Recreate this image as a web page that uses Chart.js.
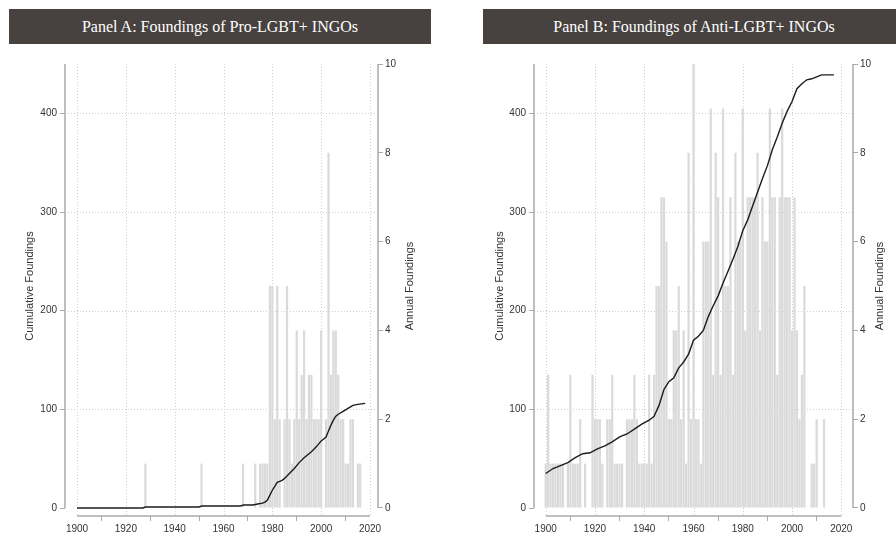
<!DOCTYPE html>
<html>
<head>
<meta charset="utf-8">
<script src="https://cdn.jsdelivr.net/npm/chart.js@4.4.1/dist/chart.umd.min.js"></script>
<style>
  html, body { margin: 0; padding: 0; background: #fff; }
  body { width: 896px; height: 534px; position: relative; overflow: hidden; }
  .panel { position: absolute; top: 0; width: 448px; height: 534px; }
  .title {
    position: absolute; top: 9px; height: 35px; z-index: 2;
    background: #47423f; color: #fff;
    font: 16px 'Liberation Serif', serif; line-height: 35px; text-align: center;
  }
</style>
</head>
<body>
<div class="panel" style="left:0"><canvas id="chartA" width="448" height="534"></canvas></div>
<div class="panel" style="left:448px"><canvas id="chartB" width="448" height="534"></canvas></div>
<div class="title" style="left:9px;width:422px">Panel A: Foundings of Pro-LGBT+ INGOs</div>
<div class="title" style="left:483px;width:422px">Panel B: Foundings of Anti-LGBT+ INGOs</div>
<script>
// tick labels
const xTicks = [1900, 1920, 1940, 1960, 1980, 2000, 2020];
const cumTicks = [0, 100, 200, 300, 400];
const annualTicks = [0, 2, 4, 6, 8, 10];

// Panel A: pro-LGBT+ annual foundings (bars)
const proBarYears = [1928, 1951, 1968, 1973, 1975, 1976, 1977, 1978, 1979, 1980,
  1981, 1982, 1983, 1984, 1985, 1986, 1987, 1988, 1989, 1990,
  1991, 1992, 1993, 1994, 1995, 1996, 1997, 1998, 1999, 2000,
  2001, 2002, 2003, 2004, 2005, 2006, 2007, 2008, 2009, 2010,
  2011, 2012, 2013, 2014, 2015, 2016];
const proBarCounts = [1, 1, 1, 1, 1, 1, 1, 1, 5, 5,
  2, 5, 2, 0, 2, 5, 2, 1, 2, 4,
  2, 3, 4, 2, 3, 3, 2, 2, 2, 4,
  0, 2, 8, 3, 4, 4, 3, 2, 2, 1,
  1, 2, 2, 0, 1, 1];

// Panel A: cumulative foundings (line)
const proLineYears = [1900, 1927, 1928, 1950, 1951, 1967, 1968, 1972, 1974, 1976,
  1977, 1978, 1979, 1980, 1981, 1982, 1983, 1984, 1985, 1987,
  1989, 1991, 1993, 1996, 1998, 2000, 2002, 2003, 2004, 2005,
  2006, 2007, 2009, 2011, 2013, 2015, 2018];
const proLineValues = [0, 0, 1, 1, 2, 2, 3, 3, 4, 5,
  6, 8, 13, 18, 22, 26, 27, 28, 30, 35,
  40, 46, 51, 57, 62, 68, 72, 78, 84, 89,
  93, 95, 98, 101, 104, 105, 106];

// Panel B: anti-LGBT+ annual foundings, one value per year from 1900
const antiFirstYear = 1900;
const antiBarCounts = [
  1, 3, 1, 1, 1, 1, 1, 1, 0, 1,   // 1900s
  3, 1, 1, 1, 2, 0, 1, 0, 0, 3,   // 1910s
  2, 2, 2, 1, 0, 2, 2, 3, 1, 1,   // 1920s
  1, 1, 0, 2, 2, 2, 3, 2, 1, 1,   // 1930s
  1, 1, 3, 1, 3, 5, 5, 7, 7, 6,   // 1940s
  2, 2, 4, 4, 5, 2, 4, 1, 8, 2,   // 1950s
  10, 2, 2, 1, 6, 6, 6, 9, 3, 8,  // 1960s
  7, 3, 9, 5, 5, 7, 3, 8, 6, 6,   // 1970s
  9, 4, 7, 7, 7, 7, 8, 4, 7, 6,   // 1980s
  6, 9, 7, 7, 3, 7, 9, 7, 7, 7,   // 1990s
  4, 7, 4, 2, 3, 5, 0, 0, 1, 1,   // 2000s
  2, 0, 0, 2                      // 2010-2013
];

// Panel B: cumulative foundings (line)
const antiLineYears = [1900, 1903, 1906, 1909, 1912, 1915, 1918, 1921, 1924, 1927,
  1930, 1933, 1936, 1939, 1942, 1944, 1946, 1948, 1950, 1952,
  1954, 1956, 1958, 1960, 1962, 1964, 1966, 1968, 1970, 1972,
  1974, 1976, 1978, 1980, 1982, 1984, 1986, 1988, 1990, 1992,
  1994, 1996, 1998, 2000, 2002, 2004, 2006, 2008, 2010, 2012, 2014, 2017];
const antiLineValues = [35, 40, 43, 46, 51, 55, 56, 60, 63, 67,
  72, 75, 80, 85, 89, 93, 104, 120, 128, 132,
  142, 148, 156, 170, 174, 180, 194, 205, 215, 228,
  240, 252, 265, 281, 292, 306, 320, 334, 347, 363,
  376, 390, 402, 412, 425, 430, 434, 435, 437, 439, 439, 439];

const axisGrey = '#aaaaaa';
const gridGrey = '#cfcfcf';
const textGrey = '#333333';
const tickFont = { family: "'Liberation Sans', Arial, sans-serif", size: 10 };
const titleFont = "11px 'Liberation Sans', Arial, sans-serif";

// grid lines, axis lines and axis titles, drawn Stata-style
const stataFrame = {
  id: 'stataFrame',
  beforeDatasetsDraw(chart) {
    const { ctx, chartArea, scales } = chart;
    const x = scales.x, yL = scales.yL;
    ctx.save();
    ctx.strokeStyle = gridGrey;
    ctx.lineWidth = 1;
    ctx.setLineDash([1, 2]);
    xTicks.forEach(v => {
      const px = Math.round(x.getPixelForValue(v)) + 0.5;
      ctx.beginPath();
      ctx.moveTo(px, yL.getPixelForValue(450));
      ctx.lineTo(px, chartArea.bottom);
      ctx.stroke();
    });
    cumTicks.slice(1).forEach(v => {
      const py = Math.round(yL.getPixelForValue(v)) + 0.5;
      ctx.beginPath();
      ctx.moveTo(chartArea.left, py);
      ctx.lineTo(chartArea.right, py);
      ctx.stroke();
    });
    ctx.restore();
  },
  afterDraw(chart, args, opts) {
    const { ctx, chartArea, scales } = chart;
    const x = scales.x, yL = scales.yL, yR = scales.yR;
    ctx.save();
    ctx.strokeStyle = axisGrey;
    ctx.lineWidth = 1.5;
    ctx.beginPath();
    ctx.moveTo(chartArea.left, yL.getPixelForValue(0));
    ctx.lineTo(chartArea.left, yL.getPixelForValue(450));
    ctx.moveTo(chartArea.right, yR.getPixelForValue(0));
    ctx.lineTo(chartArea.right, yR.getPixelForValue(10));
    ctx.moveTo(x.getPixelForValue(1900), chartArea.bottom);
    ctx.lineTo(x.getPixelForValue(2020), chartArea.bottom);
    ctx.stroke();

    // axis titles, both reading bottom to top
    const midY = (yL.getPixelForValue(0) + yL.getPixelForValue(450)) / 2;
    ctx.fillStyle = textGrey;
    ctx.font = titleFont;
    ctx.textAlign = 'center';
    ctx.textBaseline = 'middle';
    [[opts.leftTitleX, 'Cumulative Foundings'], [opts.rightTitleX, 'Annual Foundings']].forEach(([tx, label]) => {
      ctx.save();
      ctx.translate(tx, midY);
      ctx.rotate(-Math.PI / 2);
      ctx.fillText(label, 0, 0);
      ctx.restore();
    });
    ctx.restore();
  }
};

function fixedTicks(values) {
  return scale => { scale.ticks = values.map(v => ({ value: v })); };
}

function makePanel(canvasId, bars, line, geom) {
  const tickGrid = { drawOnChartArea: false, tickLength: 5, tickColor: axisGrey, tickWidth: 1 };
  new Chart(document.getElementById(canvasId), {
    type: 'bar',
    data: {
      datasets: [
        {
          type: 'line',
          data: line,
          yAxisID: 'yL',
          borderColor: '#1c1c1c',
          borderWidth: 1.4,
          pointRadius: 0,
          tension: 0,
          order: 0
        },
        {
          type: 'bar',
          data: bars,
          yAxisID: 'yR',
          backgroundColor: '#dadada',
          borderWidth: 0,
          barPercentage: 0.9,
          categoryPercentage: 1,
          order: 1
        }
      ]
    },
    options: {
      responsive: false,
      devicePixelRatio: 1,
      animation: false,
      layout: { padding: { top: 64, left: 0, right: 0, bottom: 0 } },
      plugins: {
        legend: { display: false },
        tooltip: { enabled: false },
        stataFrame: { leftTitleX: geom.leftTitleX, rightTitleX: geom.rightTitleX }
      },
      scales: {
        x: {
          type: 'linear',
          min: geom.xMin,
          max: geom.xMax,
          offset: false,
          afterBuildTicks: fixedTicks(xTicks),
          afterFit: s => { s.height = 18; },
          ticks: { font: tickFont, color: textGrey, padding: 2, maxRotation: 0, autoSkip: false, callback: v => String(v) },
          grid: tickGrid,
          border: { display: false }
        },
        yL: {
          type: 'linear',
          position: 'left',
          min: -8.108,
          max: 450,
          afterBuildTicks: fixedTicks(cumTicks),
          afterFit: s => { s.width = geom.left; },
          ticks: { font: tickFont, color: textGrey, padding: 3 },
          grid: tickGrid,
          border: { display: false }
        },
        yR: {
          type: 'linear',
          position: 'right',
          min: -0.1802,
          max: 10,
          afterBuildTicks: fixedTicks(annualTicks),
          afterFit: s => { s.width = 448 - geom.right; },
          ticks: { font: tickFont, color: textGrey, padding: 2 },
          grid: tickGrid,
          border: { display: false }
        }
      }
    },
    plugins: [stataFrame]
  });
}

const proBars = proBarYears.map((yr, i) => ({ x: yr, y: proBarCounts[i] }));
const proLine = proLineYears.map((yr, i) => ({ x: yr, y: proLineValues[i] }));
const antiBars = antiBarCounts.map((c, i) => ({ x: antiFirstYear + i, y: c }));
const antiLine = antiLineYears.map((yr, i) => ({ x: yr, y: antiLineValues[i] }));

makePanel('chartA', proBars, proLine,
  { left: 65, right: 378, xMin: 1895.085, xMax: 2023.276, leftTitleX: 30, rightTitleX: 410 });
makePanel('chartB', antiBars, antiLine,
  { left: 86, right: 405, xMin: 1895.25, xMax: 2024.75, leftTitleX: 52, rightTitleX: 432 });
</script>
</body>
</html>
